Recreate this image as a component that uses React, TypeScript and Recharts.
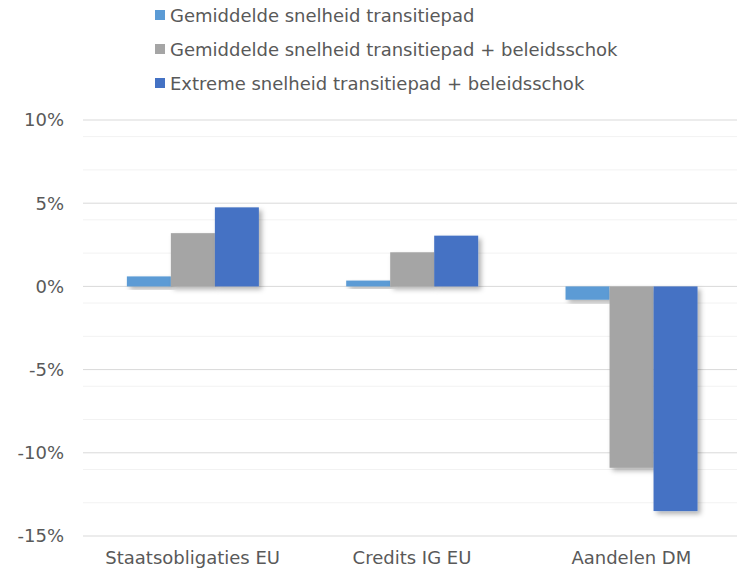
import React from 'react';
import { BarChart, Bar, XAxis, YAxis, CartesianGrid } from 'recharts';

const categories = ['Staatsobligaties EU', 'Credits IG EU', 'Aandelen DM'];
const gemiddeld = [0.6, 0.35, -0.8];
const gemiddeldShock = [3.2, 2.05, -10.9];
const extremeShock = [4.75, 3.05, -13.5];

const seriesNames = [
  'Gemiddelde snelheid transitiepad',
  'Gemiddelde snelheid transitiepad + beleidsschok',
  'Extreme snelheid transitiepad + beleidsschok',
];
const seriesColors = ['#5b9bd5', '#a5a5a5', '#4472c4'];

const majorTicks = [-15, -10, -5, 0, 5, 10];
const minorTicks = [-14, -13, -12, -11, -9, -8, -7, -6, -4, -3, -2, -1, 1, 2, 3, 4, 6, 7, 8, 9];

const data = categories.map((name, i) => ({
  name,
  s0: gemiddeld[i],
  s1: gemiddeldShock[i],
  s2: extremeShock[i],
}));

const FONT = '"DejaVu Sans", Verdana, sans-serif';
const TEXT = '#595959';

const ShadowBar = (props: any) => {
  const { x, y, width, height, fill } = props;
  const h = Math.abs(height);
  const top = height < 0 ? y + height : y;
  return <rect x={x} y={top} width={width} height={h} fill={fill} filter="url(#barShadow)" />;
};

const Legendje = () => (
  <div style={{ position: 'absolute', left: 155, top: 0, fontFamily: FONT, fontSize: 18, color: TEXT }}>
    {seriesNames.map((n, i) => (
      <div key={n} style={{ position: 'absolute', top: 15 + i * 34 - 11, left: 0, whiteSpace: 'nowrap', height: 22, display: 'flex', alignItems: 'center' }}>
        <span style={{ display: 'inline-block', width: 10, height: 10, background: seriesColors[i], marginRight: 5 }} />
        <span>{n}</span>
      </div>
    ))}
  </div>
);

export default function App() {
  return (
    <div style={{ position: 'absolute', left: 0, top: 0, width: 737, height: 569, background: '#fff', overflow: 'hidden' }}>
      <Legendje />
      <BarChart
        width={741}
        height={569}
        data={data}
        margin={{ top: 120, right: 0, bottom: 0, left: 0 }}
        barCategoryGap="20%"
        barGap={0}
      >
        <defs>
          <filter id="barShadow" x="-20%" y="-20%" width="150%" height="150%">
            <feDropShadow dx="3" dy="3" stdDeviation="2.5" floodColor="#000" floodOpacity="0.3" />
          </filter>
        </defs>
        <CartesianGrid vertical={false} horizontalValues={minorTicks} stroke="#f2f2f2" strokeWidth={1} />
        <CartesianGrid vertical={false} horizontalValues={majorTicks} stroke="#d9d9d9" strokeWidth={1} />
        <XAxis
          dataKey="name"
          axisLine={false}
          tickLine={false}
          height={33}
          tickMargin={9}
          tick={{ fill: TEXT, fontSize: 18, fontFamily: FONT }}
          interval={0}
        />
        <YAxis
          domain={[-15, 10]}
          ticks={majorTicks}
          width={83}
          axisLine={false}
          tickLine={false}
          tickMargin={13}
          tickFormatter={(v: number) => `${v}%`}
          tick={{ fill: TEXT, fontSize: 18, fontFamily: FONT }}
        />
        {['s0', 's1', 's2'].map((k, i) => (
          <Bar key={k} dataKey={k} fill={seriesColors[i]} shape={<ShadowBar />} isAnimationActive={false} />
        ))}
      </BarChart>
    </div>
  );
}
